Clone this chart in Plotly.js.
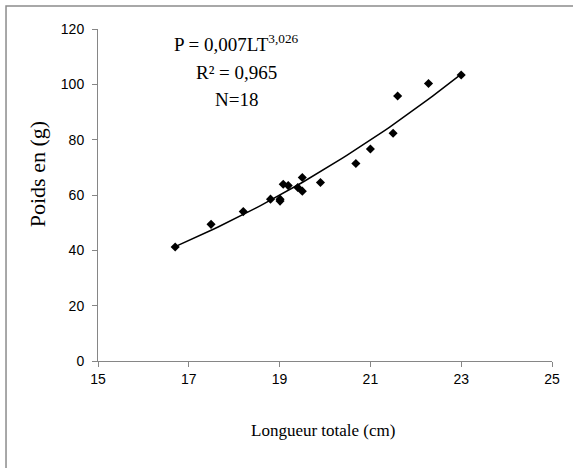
<!DOCTYPE html>
<html>
<head>
<meta charset="utf-8">
<script src="https://cdn.plot.ly/plotly-3.0.1.min.js"></script>
<style>html,body{margin:0;padding:0;background:#fff;}#chart{width:573px;height:468px;}</style>
</head>
<body>
<div id="chart"></div>
<script>
// Data
const longueur = [16.70, 17.49, 18.20, 18.80, 19.01, 19.01, 19.08, 19.19, 19.40, 19.50, 19.50, 19.90, 20.68, 21.00, 21.50, 21.60, 22.28, 23.00];
const poids    = [41.2, 49.4, 54.0, 58.5, 58.5, 57.8, 63.9, 63.4, 62.7, 66.3, 61.4, 64.5, 71.4, 76.6, 82.3, 95.8, 100.3, 103.4];
const xTicks = [15, 17, 19, 21, 23, 25];
const yTicks = [0, 20, 40, 60, 80, 100, 120];
const eqText = "P = 0,007LT<sup>3,026</sup>";
const r2Text = "R² = 0,965";
const nText = "N=18";
const xTitle = "Longueur totale (cm)";
const yTitle = "Poids en (g)";

// Power trend line: least-squares fit in log space of the data above
const lx = longueur.map(Math.log), ly = poids.map(Math.log);
const n = lx.length;
const mx = lx.reduce((a,b)=>a+b,0)/n, my = ly.reduce((a,b)=>a+b,0)/n;
let sxy = 0, sxx = 0;
for (let i = 0; i < n; i++) { sxy += (lx[i]-mx)*(ly[i]-my); sxx += (lx[i]-mx)*(lx[i]-mx); }
const b = sxy/sxx, a = Math.exp(my - b*mx);
const xmin = Math.min(...longueur), xmax = Math.max(...longueur);
const fx = [], fy = [];
for (let i = 0; i <= 60; i++) { const x = xmin + (xmax-xmin)*i/60; fx.push(x); fy.push(a*Math.pow(x, b)); }

const serif = "Liberation Serif, Times New Roman, serif";
const narrow = "Liberation Sans Narrow, Liberation Sans, Arial, sans-serif";

const traces = [
  {x: fx, y: fy, mode: 'lines', line: {color: '#000', width: 1.5}, hoverinfo: 'skip'},
  {x: longueur, y: poids, mode: 'markers', marker: {symbol: 'diamond', size: 7, color: '#000'}}
];

const layout = {
  width: 573, height: 468,
  margin: {l: 98, r: 21, t: 29, b: 107},
  paper_bgcolor: '#fff', plot_bgcolor: '#fff',
  showlegend: false,
  xaxis: {
    range: [15, 25], tickvals: xTicks, ticktext: xTicks.map(String),
    showgrid: false, zeroline: false, showline: true, linecolor: '#868686', linewidth: 1,
    ticks: 'outside', ticklen: 5, tickcolor: '#868686',
    tickfont: {family: narrow, size: 14, color: '#000'}
  },
  yaxis: {
    range: [0, 120], tickvals: yTicks, ticktext: yTicks.map(String),
    showgrid: false, zeroline: false, showline: true, linecolor: '#868686', linewidth: 1,
    ticks: 'outside', ticklen: 5, tickcolor: '#868686', ticklabelstandoff: 5,
    tickfont: {family: narrow, size: 14, color: '#000'}
  },
  annotations: [
    {text: eqText, xref: 'paper', yref: 'paper', x: 0.304, y: 0.958, showarrow: false, xanchor: 'center', yanchor: 'middle', font: {family: serif, size: 19, color: '#000'}},
    {text: r2Text, xref: 'paper', yref: 'paper', x: 0.304, y: 0.870, showarrow: false, xanchor: 'center', yanchor: 'middle', font: {family: serif, size: 19, color: '#000'}},
    {text: nText, xref: 'paper', yref: 'paper', x: 0.304, y: 0.789, showarrow: false, xanchor: 'center', yanchor: 'middle', font: {family: serif, size: 19, color: '#000'}},
    {text: xTitle, xref: 'paper', yref: 'paper', x: 0.496, y: -0.208, showarrow: false, xanchor: 'center', yanchor: 'middle', font: {family: serif, size: 17, color: '#000'}},
    {text: yTitle, xref: 'paper', yref: 'paper', x: -0.134, y: 0.563, showarrow: false, textangle: -90, xanchor: 'center', yanchor: 'middle', font: {family: serif, size: 22, color: '#000'}}
  ],
  shapes: [
    {type: 'rect', xref: 'paper', yref: 'paper', x0: -0.2026, x1: 1.06, y0: -0.34, y1: 1.069, line: {color: '#8c8c8c', width: 1.5}, fillcolor: 'rgba(0,0,0,0)', layer: 'below'}
  ]
};

Plotly.newPlot('chart', traces, layout, {displayModeBar: false, staticPlot: true});
</script>
</body>
</html>
